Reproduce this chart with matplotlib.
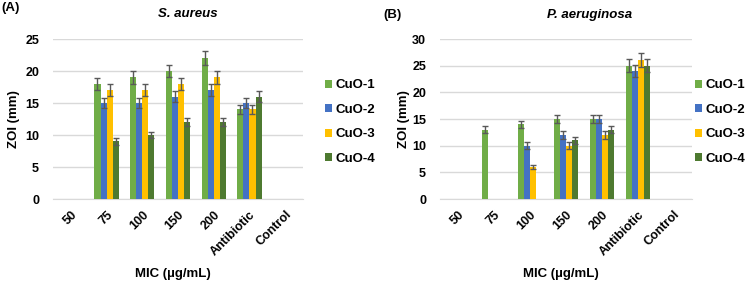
import numpy as np
import matplotlib
matplotlib.use('Agg')
import matplotlib.pyplot as plt
import matplotlib.transforms as mtransforms

plt.rcParams['font.family'] = ['Liberation Sans', 'DejaVu Sans']
plt.rcParams['font.weight'] = 'bold'

# Data.
categories = ['50', '75', '100', '150', '200', 'Antibiotic', 'Control']
series_names = ['CuO-1', 'CuO-2', 'CuO-3', 'CuO-4']
colors = ['#70AD47', '#4472C4', '#FFC000', '#4E7A30']

nan = np.nan
sa_cuo1 = [nan, 18, 19, 20, 22, 14, nan]
sa_cuo2 = [nan, 15, 15, 16, 17, 15, nan]
sa_cuo3 = [nan, 17, 17, 18, 19, 14, nan]
sa_cuo4 = [nan, 9, 10, 12, 12, 16, nan]
sa_err1 = [0, 0.9, 1.0, 1.0, 1.1, 0.7, 0]
sa_err2 = [0, 0.8, 0.8, 0.8, 0.9, 0.8, 0]
sa_err3 = [0, 0.9, 0.9, 0.9, 1.0, 0.7, 0]
sa_err4 = [0, 0.5, 0.5, 0.6, 0.6, 0.8, 0]

pa_cuo1 = [nan, 13, 14, 15, 15, 25, nan]
pa_cuo2 = [nan, nan, 10, 12, 15, 24, nan]
pa_cuo3 = [nan, nan, 6, 10, 12, 26, nan]
pa_cuo4 = [nan, nan, nan, 11, 13, 25, nan]
pa_err1 = [0, 0.7, 0.7, 0.8, 0.8, 1.2, 0]
pa_err2 = [0, 0, 0.6, 0.7, 0.8, 1.2, 0]
pa_err3 = [0, 0, 0.4, 0.6, 0.7, 1.3, 0]
pa_err4 = [0, 0, 0, 0.6, 0.7, 1.2, 0]

W, H = 753, 281


def draw_panel(fig, ax, values, errors, ymax, ylab_x, leg_x):
    x = np.arange(len(categories))
    width = 0.17
    for i, (vals, errs) in enumerate(zip(values, errors)):
        offset = (i - 1.5) * width
        ax.bar(x + offset, vals, width, color=colors[i], label=series_names[i],
               yerr=errs, ecolor='#595959', capsize=2.5,
               error_kw={'elinewidth': 1, 'capthick': 1}, zorder=3)
    ax.set_xlim(-0.5, len(categories) - 0.5)
    ax.set_ylim(0, ymax)
    ax.set_yticks(np.arange(0, ymax + 1, 5))
    ax.set_xticks(x)
    ax.set_xticklabels(categories, rotation=45, ha='right',
                       rotation_mode='anchor', fontsize=9)
    # nudge x tick labels a little to the right
    shift = mtransforms.ScaledTranslation(4 / 100, 0, fig.dpi_scale_trans)
    for lbl in ax.get_xticklabels():
        lbl.set_transform(lbl.get_transform() + shift)
    ax.tick_params(axis='y', labelsize=9, length=0, pad=10)
    ax.tick_params(axis='x', length=0, pad=7)
    ax.yaxis.grid(True, color='#D9D9D9', linewidth=1, zorder=0)
    for s in ['top', 'right', 'left']:
        ax.spines[s].set_visible(False)
    ax.spines['bottom'].set_color('#D9D9D9')
    ax.set_ylabel('ZOI (mm)', fontsize=9.5, fontweight='bold')
    ax.yaxis.set_label_coords(ylab_x, 0.5)
    ax.set_xlabel('MIC (\u00b5g/mL)', fontsize=9.5, fontweight='bold')
    ax.xaxis.set_label_coords(0.48, -0.43)
    ax.legend(loc='center left', bbox_to_anchor=(leg_x, 0.48), frameon=False,
              fontsize=9.5, handlelength=0.55, handleheight=0.55,
              handletextpad=0.25, labelspacing=0.95, borderaxespad=0.3)


fig = plt.figure(figsize=(W / 100, H / 100), dpi=100)
ax1 = fig.add_axes([53 / W, 1 - 199 / H, 250 / W, 160 / H])
ax2 = fig.add_axes([440 / W, 1 - 199 / H, 252 / W, 160 / H])

draw_panel(fig, ax1, [sa_cuo1, sa_cuo2, sa_cuo3, sa_cuo4],
           [sa_err1, sa_err2, sa_err3, sa_err4], 25, -0.132, 1.05)
draw_panel(fig, ax2, [pa_cuo1, pa_cuo2, pa_cuo3, pa_cuo4],
           [pa_err1, pa_err2, pa_err3, pa_err4], 30, -0.119, 0.975)

# Panel tags and titles
fig.text(1 / W, 1 - 8 / H, '(A)', fontsize=9.5, fontweight='bold', va='center')
fig.text(383 / W, 1 - 15 / H, '(B)', fontsize=9.5, fontweight='bold', va='center')
fig.text(188 / W, 1 - 14 / H, 'S. aureus', fontsize=9.5, fontweight='bold',
         style='italic', ha='center', va='center')
fig.text(590 / W, 1 - 15 / H, 'P. aeruginosa', fontsize=9.5, fontweight='bold',
         style='italic', ha='center', va='center')

fig.savefig('out.png', dpi=100)
